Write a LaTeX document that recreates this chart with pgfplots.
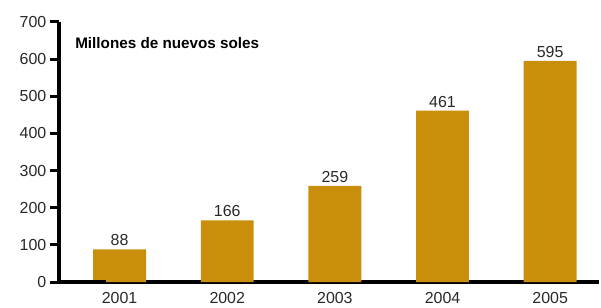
\documentclass[border=0pt]{standalone}
\usepackage{fontspec}
\setmainfont{Liberation Sans}
\usepackage{pgfplots}
\pgfplotsset{compat=1.18}
\definecolor{barc}{RGB}{201,143,12}
\definecolor{txt}{RGB}{40,40,40}
\begin{document}
\begin{tikzpicture}
\begin{axis}[
  scale only axis,
  width=542pt, height=261pt,
  xmin=-0.565, xmax=4.454,
  ymin=0, ymax=700,
  axis x line*=bottom, axis y line*=left,
  x axis line style={line width=4pt,-},
  y axis line style={line width=4pt,-},
  xtick={0,1,2,3,4},
  xticklabels={2001,2002,2003,2004,2005},
  ytick={0,100,...,700},
  major x tick style={draw=none},
  major y tick style={line width=3pt,black},
  tick align=outside,
  major tick length=9pt,
  tick label style={font=\fontsize{16}{19}\selectfont, text=txt},
  /pgf/number format/assume math mode=true,
  xticklabel style={yshift=2pt},
  yticklabel style={xshift=0pt},
  clip=false,
  nodes near coords,
  every node near coord/.append style={font=\fontsize{16}{19}\selectfont, text=txt, yshift=0pt},
]
\addplot[ybar, bar width=53pt, fill=barc, draw=none] coordinates {(0,88) (1,166) (2,259) (3,461) (4,595)};
\draw[line width=4pt] (rel axis cs:0,0) ++(-14pt,0) -- (rel axis cs:0,0);
\node[anchor=west, font=\bfseries\fontsize{15.3}{18}\selectfont, text=black] at ([xshift=13pt,yshift=-21pt]rel axis cs:0,1) {Millones de nuevos soles};
\path (rel axis cs:0,0) ++(-59pt,-20pt) coordinate (bl);
\path (rel axis cs:1,1) ++(0pt,22pt) coordinate (tr);
\path (bl) rectangle (tr);
\end{axis}
\end{tikzpicture}
\end{document}
